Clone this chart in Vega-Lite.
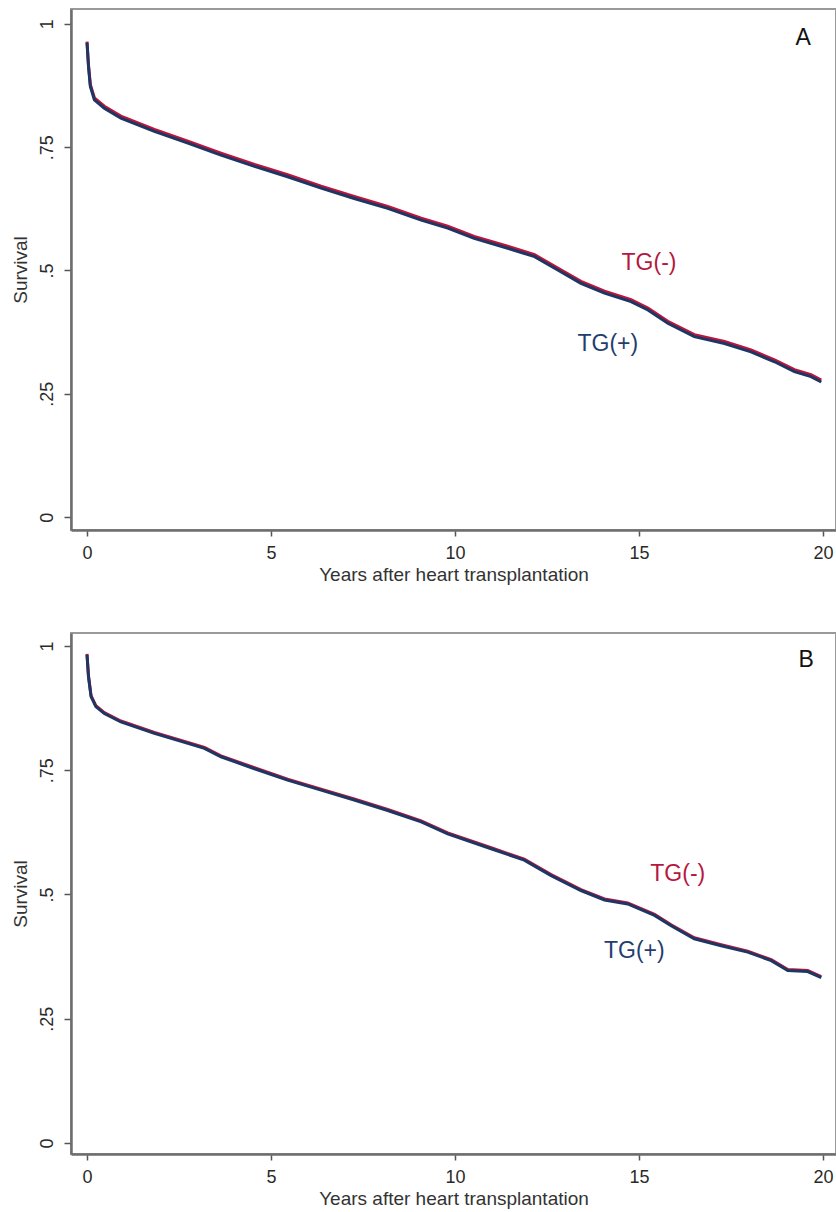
{
  "$schema": "https://vega.github.io/schema/vega-lite/v6.json",
  "padding": {"left": 9, "top": 8, "right": 0, "bottom": 0},
  "background": "white",
  "bounds": "flush",
  "spacing": 103,
  "config": {
    "font": "Liberation Sans",
    "view": {"stroke": "#9a9a9a", "strokeWidth": 2},
    "axis": {
      "grid": false,
      "domainColor": "#6e6e6e",
      "domainWidth": 2.5,
      "tickColor": "#555555",
      "tickWidth": 1.5,
      "tickSize": 6,
      "labelFont": "Liberation Sans",
      "titleFont": "Liberation Sans",
      "labelFontSize": 18,
      "titleFontSize": 19,
      "labelColor": "#2a2a2a",
      "titleColor": "#333333",
      "titleFontWeight": "normal"
    }
  },
  "datasets": {
    "curveA": [
      {"group": "TG(-)", "year": 0, "surv": 0.964},
      {"group": "TG(-)", "year": 0.04, "surv": 0.917},
      {"group": "TG(-)", "year": 0.09, "surv": 0.877},
      {"group": "TG(-)", "year": 0.2, "surv": 0.850},
      {"group": "TG(-)", "year": 0.47, "surv": 0.833},
      {"group": "TG(-)", "year": 0.92, "surv": 0.813},
      {"group": "TG(-)", "year": 1.83, "surv": 0.786},
      {"group": "TG(-)", "year": 2.74, "surv": 0.762},
      {"group": "TG(-)", "year": 3.64, "surv": 0.738},
      {"group": "TG(-)", "year": 4.55, "surv": 0.715},
      {"group": "TG(-)", "year": 5.45, "surv": 0.694},
      {"group": "TG(-)", "year": 6.36, "surv": 0.671},
      {"group": "TG(-)", "year": 7.26, "surv": 0.650},
      {"group": "TG(-)", "year": 8.17, "surv": 0.630},
      {"group": "TG(-)", "year": 9.08, "surv": 0.606},
      {"group": "TG(-)", "year": 9.8, "surv": 0.590},
      {"group": "TG(-)", "year": 10.52, "surv": 0.569},
      {"group": "TG(-)", "year": 11.43, "surv": 0.549},
      {"group": "TG(-)", "year": 12.16, "surv": 0.532},
      {"group": "TG(-)", "year": 12.79, "surv": 0.505},
      {"group": "TG(-)", "year": 13.42, "surv": 0.478},
      {"group": "TG(-)", "year": 14.06, "surv": 0.458},
      {"group": "TG(-)", "year": 14.78, "surv": 0.441},
      {"group": "TG(-)", "year": 15.24, "surv": 0.424},
      {"group": "TG(-)", "year": 15.78, "surv": 0.397},
      {"group": "TG(-)", "year": 16.5, "surv": 0.370},
      {"group": "TG(-)", "year": 17.32, "surv": 0.356},
      {"group": "TG(-)", "year": 18.04, "surv": 0.339},
      {"group": "TG(-)", "year": 18.68, "surv": 0.319},
      {"group": "TG(-)", "year": 19.22, "surv": 0.299},
      {"group": "TG(-)", "year": 19.67, "surv": 0.289},
      {"group": "TG(-)", "year": 19.95, "surv": 0.278},
      {"group": "TG(+)", "year": 0, "surv": 0.962},
      {"group": "TG(+)", "year": 0.04, "surv": 0.913},
      {"group": "TG(+)", "year": 0.09, "surv": 0.873},
      {"group": "TG(+)", "year": 0.2, "surv": 0.846},
      {"group": "TG(+)", "year": 0.47, "surv": 0.829},
      {"group": "TG(+)", "year": 0.92, "surv": 0.809},
      {"group": "TG(+)", "year": 1.83, "surv": 0.782},
      {"group": "TG(+)", "year": 2.74, "surv": 0.758},
      {"group": "TG(+)", "year": 3.64, "surv": 0.734},
      {"group": "TG(+)", "year": 4.55, "surv": 0.711},
      {"group": "TG(+)", "year": 5.45, "surv": 0.690},
      {"group": "TG(+)", "year": 6.36, "surv": 0.667},
      {"group": "TG(+)", "year": 7.26, "surv": 0.646},
      {"group": "TG(+)", "year": 8.17, "surv": 0.626},
      {"group": "TG(+)", "year": 9.08, "surv": 0.602},
      {"group": "TG(+)", "year": 9.8, "surv": 0.586},
      {"group": "TG(+)", "year": 10.52, "surv": 0.565},
      {"group": "TG(+)", "year": 11.43, "surv": 0.545},
      {"group": "TG(+)", "year": 12.16, "surv": 0.528},
      {"group": "TG(+)", "year": 12.79, "surv": 0.501},
      {"group": "TG(+)", "year": 13.42, "surv": 0.474},
      {"group": "TG(+)", "year": 14.06, "surv": 0.454},
      {"group": "TG(+)", "year": 14.78, "surv": 0.437},
      {"group": "TG(+)", "year": 15.24, "surv": 0.420},
      {"group": "TG(+)", "year": 15.78, "surv": 0.393},
      {"group": "TG(+)", "year": 16.5, "surv": 0.366},
      {"group": "TG(+)", "year": 17.32, "surv": 0.352},
      {"group": "TG(+)", "year": 18.04, "surv": 0.335},
      {"group": "TG(+)", "year": 18.68, "surv": 0.315},
      {"group": "TG(+)", "year": 19.22, "surv": 0.295},
      {"group": "TG(+)", "year": 19.67, "surv": 0.285},
      {"group": "TG(+)", "year": 19.95, "surv": 0.274}
    ],
    "curveB": [
      {"group": "TG(-)", "year": 0, "surv": 0.984},
      {"group": "TG(-)", "year": 0.04, "surv": 0.940},
      {"group": "TG(-)", "year": 0.11, "surv": 0.900},
      {"group": "TG(-)", "year": 0.24, "surv": 0.880},
      {"group": "TG(-)", "year": 0.47, "surv": 0.866},
      {"group": "TG(-)", "year": 0.92, "surv": 0.849},
      {"group": "TG(-)", "year": 1.83, "surv": 0.826},
      {"group": "TG(-)", "year": 2.74, "surv": 0.806},
      {"group": "TG(-)", "year": 3.19, "surv": 0.796},
      {"group": "TG(-)", "year": 3.64, "surv": 0.779},
      {"group": "TG(-)", "year": 4.55, "surv": 0.755},
      {"group": "TG(-)", "year": 5.45, "surv": 0.732},
      {"group": "TG(-)", "year": 6.36, "surv": 0.712},
      {"group": "TG(-)", "year": 7.26, "surv": 0.692},
      {"group": "TG(-)", "year": 8.17, "surv": 0.671},
      {"group": "TG(-)", "year": 9.08, "surv": 0.648},
      {"group": "TG(-)", "year": 9.8, "surv": 0.624},
      {"group": "TG(-)", "year": 10.98, "surv": 0.594},
      {"group": "TG(-)", "year": 11.88, "surv": 0.571},
      {"group": "TG(-)", "year": 12.61, "surv": 0.540},
      {"group": "TG(-)", "year": 13.42, "surv": 0.510},
      {"group": "TG(-)", "year": 14.06, "surv": 0.491},
      {"group": "TG(-)", "year": 14.69, "surv": 0.483},
      {"group": "TG(-)", "year": 15.42, "surv": 0.460},
      {"group": "TG(-)", "year": 15.87, "surv": 0.439},
      {"group": "TG(-)", "year": 16.5, "surv": 0.413},
      {"group": "TG(-)", "year": 17.23, "surv": 0.399},
      {"group": "TG(-)", "year": 17.95, "surv": 0.386},
      {"group": "TG(-)", "year": 18.59, "surv": 0.369},
      {"group": "TG(-)", "year": 19.04, "surv": 0.349},
      {"group": "TG(-)", "year": 19.58, "surv": 0.347},
      {"group": "TG(-)", "year": 19.95, "surv": 0.335},
      {"group": "TG(+)", "year": 0, "surv": 0.982},
      {"group": "TG(+)", "year": 0.04, "surv": 0.938},
      {"group": "TG(+)", "year": 0.11, "surv": 0.898},
      {"group": "TG(+)", "year": 0.24, "surv": 0.878},
      {"group": "TG(+)", "year": 0.47, "surv": 0.864},
      {"group": "TG(+)", "year": 0.92, "surv": 0.847},
      {"group": "TG(+)", "year": 1.83, "surv": 0.824},
      {"group": "TG(+)", "year": 2.74, "surv": 0.804},
      {"group": "TG(+)", "year": 3.19, "surv": 0.794},
      {"group": "TG(+)", "year": 3.64, "surv": 0.777},
      {"group": "TG(+)", "year": 4.55, "surv": 0.753},
      {"group": "TG(+)", "year": 5.45, "surv": 0.730},
      {"group": "TG(+)", "year": 6.36, "surv": 0.710},
      {"group": "TG(+)", "year": 7.26, "surv": 0.690},
      {"group": "TG(+)", "year": 8.17, "surv": 0.669},
      {"group": "TG(+)", "year": 9.08, "surv": 0.646},
      {"group": "TG(+)", "year": 9.8, "surv": 0.622},
      {"group": "TG(+)", "year": 10.98, "surv": 0.592},
      {"group": "TG(+)", "year": 11.88, "surv": 0.569},
      {"group": "TG(+)", "year": 12.61, "surv": 0.538},
      {"group": "TG(+)", "year": 13.42, "surv": 0.508},
      {"group": "TG(+)", "year": 14.06, "surv": 0.489},
      {"group": "TG(+)", "year": 14.69, "surv": 0.481},
      {"group": "TG(+)", "year": 15.42, "surv": 0.458},
      {"group": "TG(+)", "year": 15.87, "surv": 0.437},
      {"group": "TG(+)", "year": 16.5, "surv": 0.411},
      {"group": "TG(+)", "year": 17.23, "surv": 0.397},
      {"group": "TG(+)", "year": 17.95, "surv": 0.384},
      {"group": "TG(+)", "year": 18.59, "surv": 0.367},
      {"group": "TG(+)", "year": 19.04, "surv": 0.347},
      {"group": "TG(+)", "year": 19.58, "surv": 0.345},
      {"group": "TG(+)", "year": 19.95, "surv": 0.333}
    ],
    "labelsA": [
      {"text": "TG(-)", "year": 15.27, "surv": 0.515, "kind": "TG(-)"},
      {"text": "TG(+)", "year": 14.15, "surv": 0.352, "kind": "TG(+)"},
      {"text": "A", "year": 19.46, "surv": 0.972, "kind": "panel"}
    ],
    "labelsB": [
      {"text": "TG(-)", "year": 16.05, "surv": 0.542, "kind": "TG(-)"},
      {"text": "TG(+)", "year": 14.87, "surv": 0.387, "kind": "TG(+)"},
      {"text": "B", "year": 19.54, "surv": 0.972, "kind": "panel"}
    ]
  },
  "vconcat": [
    {
      "width": 765,
      "height": 521,
      "encoding": {
        "x": {
          "field": "year", "type": "quantitative",
          "scale": {"domain": [-0.435, 20.35], "nice": false, "zero": false},
          "axis": {"values": [0, 5, 10, 15, 20], "title": "Years after heart transplantation", "labelPadding": 8, "titlePadding": 3}
        },
        "y": {
          "field": "surv", "type": "quantitative",
          "scale": {"domain": [-0.026, 1.03], "nice": false, "zero": false},
          "axis": {
            "values": [0, 0.25, 0.5, 0.75, 1],
            "title": "Survival",
            "labelAngle": -90,
            "labelAlign": "center",
            "labelBaseline": "bottom",
            "labelPadding": 8,
            "titlePadding": 8,
            "tickSize": 7,
            "labelExpr": "datum.value == 1 ? '1' : datum.value == 0 ? '0' : datum.value == 0.75 ? '.75' : datum.value == 0.5 ? '.5' : '.25'"
          }
        }
      },
      "layer": [
        {
          "data": {"name": "curveA"},
          "transform": [{"filter": "datum.group == 'TG(-)'"}],
          "mark": {"type": "line", "color": "#c0143c", "strokeWidth": 3}
        },
        {
          "data": {"name": "curveA"},
          "transform": [{"filter": "datum.group == 'TG(+)'"}],
          "mark": {"type": "line", "color": "#1c3763", "strokeWidth": 3}
        },
        {
          "data": {"name": "labelsA"},
          "mark": {"type": "text", "align": "center", "baseline": "middle"},
          "encoding": {
            "text": {"field": "text"},
            "color": {"field": "kind", "type": "nominal", "scale": {"domain": ["TG(-)", "TG(+)", "panel"], "range": ["#b5173e", "#1f3d6e", "#111111"]}, "legend": null},
            "size": {"field": "kind", "type": "nominal", "scale": {"domain": ["TG(-)", "TG(+)", "panel"], "range": [23, 23, 21]}, "legend": null}
          }
        }
      ]
    },
    {
      "width": 765,
      "height": 521,
      "encoding": {
        "x": {
          "field": "year", "type": "quantitative",
          "scale": {"domain": [-0.435, 20.35], "nice": false, "zero": false},
          "axis": {"values": [0, 5, 10, 15, 20], "title": "Years after heart transplantation", "labelPadding": 8, "titlePadding": 3}
        },
        "y": {
          "field": "surv", "type": "quantitative",
          "scale": {"domain": [-0.022, 1.026], "nice": false, "zero": false},
          "axis": {
            "values": [0, 0.25, 0.5, 0.75, 1],
            "title": "Survival",
            "labelAngle": -90,
            "labelAlign": "center",
            "labelBaseline": "bottom",
            "labelPadding": 8,
            "titlePadding": 8,
            "tickSize": 7,
            "labelExpr": "datum.value == 1 ? '1' : datum.value == 0 ? '0' : datum.value == 0.75 ? '.75' : datum.value == 0.5 ? '.5' : '.25'"
          }
        }
      },
      "layer": [
        {
          "data": {"name": "curveB"},
          "transform": [{"filter": "datum.group == 'TG(-)'"}],
          "mark": {"type": "line", "color": "#c0143c", "strokeWidth": 3}
        },
        {
          "data": {"name": "curveB"},
          "transform": [{"filter": "datum.group == 'TG(+)'"}],
          "mark": {"type": "line", "color": "#1c3763", "strokeWidth": 3}
        },
        {
          "data": {"name": "labelsB"},
          "mark": {"type": "text", "align": "center", "baseline": "middle"},
          "encoding": {
            "text": {"field": "text"},
            "color": {"field": "kind", "type": "nominal", "scale": {"domain": ["TG(-)", "TG(+)", "panel"], "range": ["#b5173e", "#1f3d6e", "#111111"]}, "legend": null},
            "size": {"field": "kind", "type": "nominal", "scale": {"domain": ["TG(-)", "TG(+)", "panel"], "range": [23, 23, 21]}, "legend": null}
          }
        }
      ]
    }
  ]
}
